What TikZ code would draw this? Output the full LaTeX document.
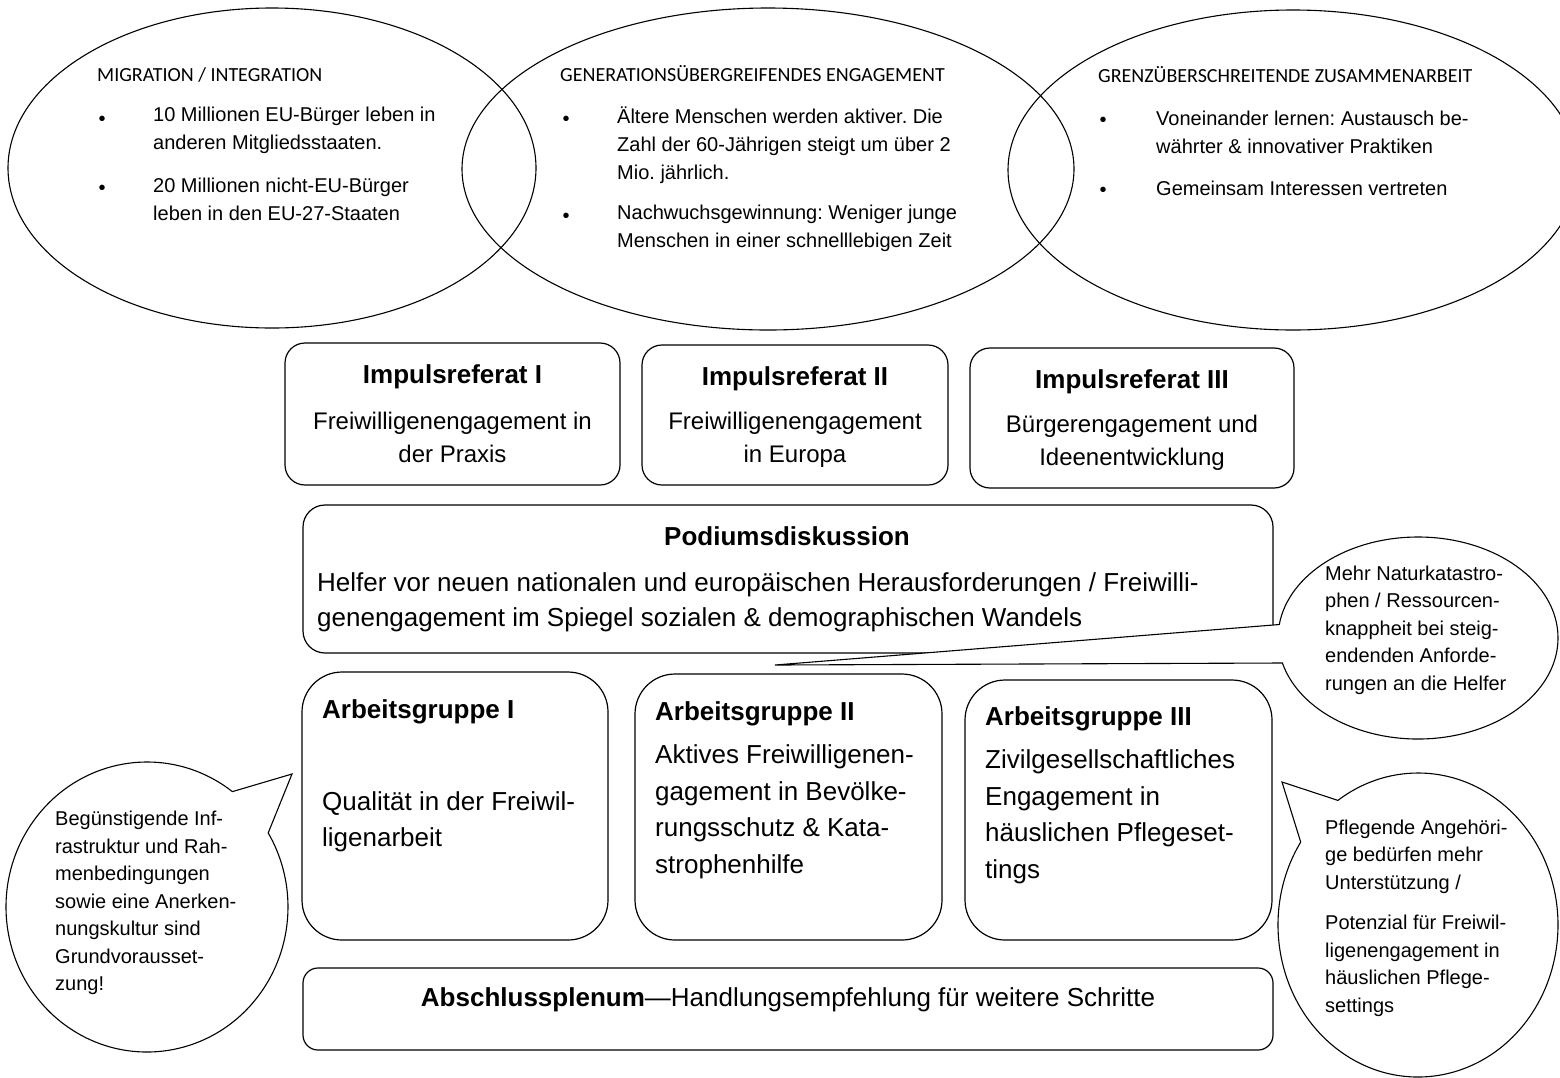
\documentclass[tikz,border=0pt]{standalone}
\usepackage{fontspec}
\setmainfont{Liberation Sans}
\newfontfamily\hdfont{Carlito}
\usetikzlibrary{shapes.geometric}
\usetikzlibrary{shapes.callouts}
\frenchspacing

\tikzset{
  kreis/.style={ellipse, draw, line width=1.1pt, inner sep=0pt},
  kasten/.style={draw, line width=1.2pt, rounded corners=#1, inner sep=0pt},
  blase/.style={ellipse callout, draw, fill=white, line width=1.1pt, inner sep=0pt, callout pointer arc=22},
  kopf/.style={font=\hdfont\fontsize{20}{24}\selectfont, anchor=base west, inner sep=0pt},
  punkt/.style={font=\fontsize{20}{28}\selectfont, inner sep=0pt},
  ptext/.style={font=\fontsize{20}{28}\selectfont, align=left, anchor=west, inner sep=0pt},
  btext/.style={font=\fontsize{20}{27.5}\selectfont, align=left, anchor=west, inner sep=0pt},
  titel/.style={font=\bfseries\fontsize{26}{30}\selectfont, inner sep=0pt},
  itext/.style={font=\fontsize{24}{33.5}\selectfont, align=center, inner sep=0pt},
  gtext/.style={font=\fontsize{26}{36.5}\selectfont, align=left, anchor=west, inner sep=0pt}
}

\begin{document}
\begin{tikzpicture}[x=1pt,y=-1pt]
\useasboundingbox (0,0) rectangle (1560,1077);

% 椭圆
\node[kreis, minimum width=528pt, minimum height=320pt] (mig) at (272,168) {};
\node[kreis, minimum width=612pt, minimum height=322pt] (gen) at (768,169) {};
\node[kreis, minimum width=570pt, minimum height=320pt] (grenz) at (1293,170) {};

\node[kopf] (migkopf) at (97,81.5) {MIGRATION / INTEGRATION};
\node[punkt] (migp1) at (102,121) {\textbullet};
\node[ptext] (migt1) at (153,130) {10 Millionen EU-Bürger leben in\\anderen Mitgliedsstaaten.};
\node[punkt] (migp2) at (102,190) {\textbullet};
\node[ptext] (migt2) at (153,199.5) {20 Millionen nicht-EU-Bürger\\leben in den EU-27-Staaten};

\node[kopf] (genkopf) at (560,81.5) {GENERATIONSÜBERGREIFENDES ENGAGEMENT};
\node[punkt] (genp1) at (566,121) {\textbullet};
\node[ptext] (gent1) at (617,145) {Ältere Menschen werden aktiver. Die\\Zahl der 60-Jährigen steigt um über 2\\Mio. jährlich.};
\node[punkt] (genp2) at (566,218) {\textbullet};
\node[ptext] (gent2) at (617,228) {Nachwuchsgewinnung: Weniger junge\\Menschen in einer schnelllebigen Zeit};

\node[kopf] (grenzkopf) at (1098,82.5) {GRENZÜBERSCHREITENDE ZUSAMMENARBEIT};
\node[punkt] (grenzp1) at (1103,122) {\textbullet};
\node[ptext] (grenzt1) at (1156,132) {Voneinander lernen: Austausch be-\\währter \& innovativer Praktiken};
\node[punkt] (grenzp2) at (1103,192) {\textbullet};
\node[ptext] (grenzt2) at (1156,188) {Gemeinsam Interessen vertreten};

% Impulsreferate
\node[kasten=20pt, minimum width=335pt, minimum height=142pt] (imp1) at (452.5,414) {};
\node[kasten=20pt, minimum width=306pt, minimum height=140pt] (imp2) at (795,415) {};
\node[kasten=20pt, minimum width=324pt, minimum height=140pt] (imp3) at (1132,418) {};
\node[titel, anchor=base] (imp1titel) at (452.5,383) {Impulsreferat I};
\node[titel, anchor=base] (imp2titel) at (795,385) {Impulsreferat II};
\node[titel, anchor=base] (imp3titel) at (1132,388) {Impulsreferat III};
\node[itext] (imp1text) at (452.5,437.5) {Freiwilligenengagement in\\der Praxis};
\node[itext] (imp2text) at (795,440) {Freiwilligenengagement\\in Europa};
\node[itext] (imp3text) at (1132,443) {Bürgerengagement und\\Ideenentwicklung};

% Podium
\node[kasten=22pt, minimum width=970pt, minimum height=148pt] (podium) at (788,579) {};
\node[titel, anchor=base] (podiumtitel) at (787,545) {Podiumsdiskussion};
\node[gtext, font=\fontsize{26}{35}\selectfont] (podiumtext) at (317,602.5) {Helfer vor neuen nationalen und europäischen Herausforderungen / Freiwilli-\\genengagement im Spiegel sozialen \& demographischen Wandels};

% Arbeitsgruppen
\node[kasten=40pt, minimum width=306pt, minimum height=268pt] (ag1) at (455,806) {};
\node[kasten=40pt, minimum width=307pt, minimum height=266pt] (ag2) at (788.5,807) {};
\node[kasten=40pt, minimum width=307pt, minimum height=260pt] (ag3) at (1118.5,810) {};
\node[titel, anchor=base west] (ag1titel) at (322,718) {Arbeitsgruppe I};
\node[titel, anchor=base west] (ag2titel) at (655,720) {Arbeitsgruppe II};
\node[titel, anchor=base west] (ag3titel) at (985,725) {Arbeitsgruppe III};
\node[gtext] (ag1text) at (322,822) {Qualität in der Freiwil-\\ligenarbeit};
\node[gtext] (ag2text) at (655,812) {Aktives Freiwilligenen-\\gagement in Bevölke-\\rungsschutz \& Kata-\\strophenhilfe};
\node[gtext] (ag3text) at (985,817) {Zivilgesellschaftliches\\Engagement in\\häuslichen Pflegeset-\\tings};

% Abschluss
\node[kasten=15pt, minimum width=970pt, minimum height=82pt] (absch) at (788,1009) {};
\node[anchor=base, inner sep=0pt, font=\fontsize{26}{30}\selectfont] (abschtext) at (788,1006) {\textbf{Abschlussplenum}—Handlungsempfehlung für weitere Schritte};

% Sprechblasen
\coordinate (naturspitze) at (775,665);
\coordinate (infraspitze) at (292,774);
\coordinate (pflegespitze) at (1282,782);
\node[blase, minimum width=280pt, minimum height=202pt, callout absolute pointer={(naturspitze)}] (natur) at (1418,638) {};
\node[blase, minimum width=282pt, minimum height=290pt, callout absolute pointer={(infraspitze)}] (infra) at (147,907) {};
\node[blase, minimum width=280pt, minimum height=304pt, callout absolute pointer={(pflegespitze)}] (pflege) at (1418,925) {};
\node[btext] (naturtext) at (1325,630) {Mehr Naturkatastro-\\phen / Ressourcen-\\knappheit bei steig-\\endenden Anforde-\\rungen an die Helfer};
\node[btext] (infratext) at (55,903) {Begünstigende Inf-\\rastruktur und Rah-\\menbedingungen\\sowie eine Anerken-\\nungskultur sind\\Grundvorausset-\\zung!};
\node[btext] (pflegetext) at (1325,918) {Pflegende Angehöri-\\ge bedürfen mehr\\Unterstützung /\\[13pt]Potenzial für Freiwil-\\ligenengagement in\\häuslichen Pflege-\\settings};
\end{tikzpicture}
\end{document}
